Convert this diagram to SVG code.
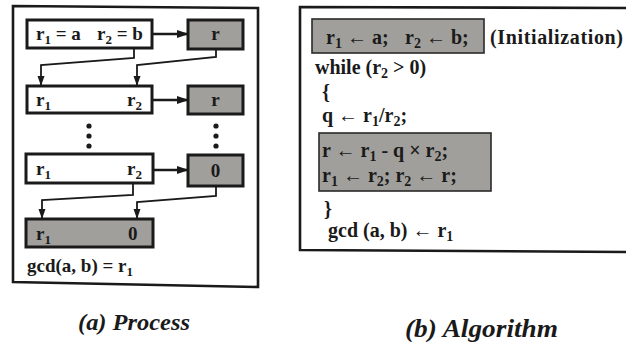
<svg xmlns="http://www.w3.org/2000/svg" width="626" height="342" viewBox="0 0 626 342">
<style>
.t{font-family:'Liberation Serif','Times New Roman',serif;font-weight:bold;fill:#1a1a1a}
.s{font-size:13px}
.s2{font-size:14px}
.wb{fill:#fff;stroke:#1a1a1a;stroke-width:3}
.gb{fill:#a19f9b;stroke:#1a1a1a;stroke-width:3}
.gb2{fill:#a19f9b;stroke:#2a2a2a;stroke-width:1.6}
.fr{fill:none;stroke:#1a1a1a;stroke-width:2.6}
.dot{fill:#1a1a1a}
.ha{fill:none;stroke:#1a1a1a;stroke-width:2.6;marker-end:url(#ah)}
.va{fill:none;stroke:#1a1a1a;stroke-width:1.8;marker-end:url(#av)}
.cap{font-style:italic}
</style>
<defs>
<marker id="ah" markerUnits="userSpaceOnUse" markerWidth="12" markerHeight="10" refX="11" refY="5" orient="auto"><path d="M0,1 L12,5 L0,9 Z" fill="#1a1a1a"/></marker>
<marker id="av" markerUnits="userSpaceOnUse" markerWidth="10" markerHeight="8" refX="9" refY="4" orient="auto"><path d="M0,0.5 L10,4 L0,7.5 Z" fill="#1a1a1a"/></marker>
</defs>
<rect width="626" height="342" fill="#fff"/>

<g id="frameA"><path class="fr" d="M13,6 L258,8 L258,287 L13,282 Z"/></g>

<g id="init">
<rect class="wb" x="27" y="20" width="125" height="28"/>
<text class="t" font-size="19" x="36" y="40">r<tspan class="s" dy="4">1</tspan><tspan dy="-4"> = a</tspan></text>
<text class="t" font-size="19" x="97" y="40">r<tspan class="s" dy="4">2</tspan><tspan dy="-4"> = b</tspan></text>
</g>
<g id="rem1">
<rect class="gb" x="188" y="20" width="55" height="29"/>
<text class="t" font-size="19" x="215.5" y="40" text-anchor="middle">r</text>
</g>
<g id="row2">
<rect class="wb" x="27" y="86" width="125" height="27"/>
<text class="t" font-size="19" x="36" y="106">r<tspan class="s" dy="4">1</tspan></text>
<text class="t" font-size="19" x="127" y="106">r<tspan class="s" dy="4">2</tspan></text>
</g>
<g id="rem2">
<rect class="gb" x="188" y="86" width="55" height="28"/>
<text class="t" font-size="19" x="215.5" y="106" text-anchor="middle">r</text>
</g>
<g id="dots">
<circle class="dot" cx="89" cy="126" r="2.6"/>
<circle class="dot" cx="89" cy="136" r="2.6"/>
<circle class="dot" cx="89" cy="146" r="2.6"/>
<circle class="dot" cx="216" cy="126" r="2.6"/>
<circle class="dot" cx="216" cy="136" r="2.6"/>
<circle class="dot" cx="216" cy="146" r="2.6"/>
</g>
<g id="row3">
<rect class="wb" x="26" y="154" width="127" height="29"/>
<text class="t" font-size="19" x="36" y="175">r<tspan class="s" dy="4">1</tspan></text>
<text class="t" font-size="19" x="127" y="175">r<tspan class="s" dy="4">2</tspan></text>
</g>
<g id="rem3">
<rect class="gb" x="188" y="155" width="55" height="31"/>
<text class="t" font-size="19" x="215.5" y="177" text-anchor="middle">0</text>
</g>
<g id="final">
<rect class="gb" x="26" y="219" width="127" height="28"/>
<text class="t" font-size="19" x="36" y="240">r<tspan class="s" dy="4">1</tspan></text>
<text class="t" font-size="19" x="128" y="240">0</text>
</g>
<g id="result">
<text class="t" font-size="19" x="27" y="272">gcd(a, b) = r<tspan class="s" dy="4">1</tspan></text>
</g>

<g id="connectors">
<path class="ha" d="M153,34 L188,34"/>
<path class="ha" d="M153,100 L188,100"/>
<path class="ha" d="M154,170 L188,170"/>
<path class="va" d="M134,49 L134,58 L41,65 L41,85"/>
<path class="va" d="M216,50 L216,57 L137,65 L137,85"/>
<path class="va" d="M133,184 L133,195 L42,200 L42,218"/>
<path class="va" d="M216,187 L216,196 L137,202 L137,218"/>
</g>

<g id="frameB"><path class="fr" d="M627,8 L300,7 L300,250 L627,252" stroke-width="3"/></g>
<g id="initCode">
<rect class="gb2" x="312" y="19" width="172" height="34"/>
<text class="t" font-size="20" x="326" y="44">r<tspan class="s2" dy="4">1</tspan><tspan dy="-4"> ← a;</tspan></text>
<text class="t" font-size="20" x="405" y="44">r<tspan class="s2" dy="4">2</tspan><tspan dy="-4"> ← b;</tspan></text>
<text class="t" font-size="20" x="490" y="44" textLength="133" lengthAdjust="spacing">(Initialization)</text>
</g>
<g id="loop">
<text class="t" font-size="20" x="315" y="74">while (r<tspan class="s2" dy="4">2</tspan><tspan dy="-4"> &gt; 0)</tspan></text>
<text class="t" font-size="20" x="322" y="99">{</text>
<text class="t" font-size="20" x="322" y="122">q ← r<tspan class="s2" dy="4">1</tspan><tspan dy="-4">/r</tspan><tspan class="s2" dy="4">2</tspan><tspan dy="-4">;</tspan></text>
</g>
<g id="body">
<rect class="gb2" x="319" y="133" width="172" height="58"/>
<text class="t" font-size="20" x="322" y="157">r ← r<tspan class="s2" dy="4">1</tspan><tspan dy="-4"> - q × r</tspan><tspan class="s2" dy="4">2</tspan><tspan dy="-4">;</tspan></text>
<text class="t" font-size="20" x="322" y="182">r<tspan class="s2" dy="4">1</tspan><tspan dy="-4"> ← r</tspan><tspan class="s2" dy="4">2</tspan><tspan dy="-4">; r</tspan><tspan class="s2" dy="4">2</tspan><tspan dy="-4"> ← r;</tspan></text>
</g>
<g id="end">
<text class="t" font-size="20" x="324" y="216">}</text>
<text class="t" font-size="20" x="328" y="237">gcd (a, b) ← r<tspan class="s2" dy="4">1</tspan></text>
</g>

<g id="captions">
<text class="t cap" font-size="23" x="78" y="330" textLength="112" lengthAdjust="spacingAndGlyphs">(a) Process</text>
<text class="t cap" font-size="25" x="405" y="337" textLength="153" lengthAdjust="spacingAndGlyphs">(b) Algorithm</text>
</g>
</svg>
